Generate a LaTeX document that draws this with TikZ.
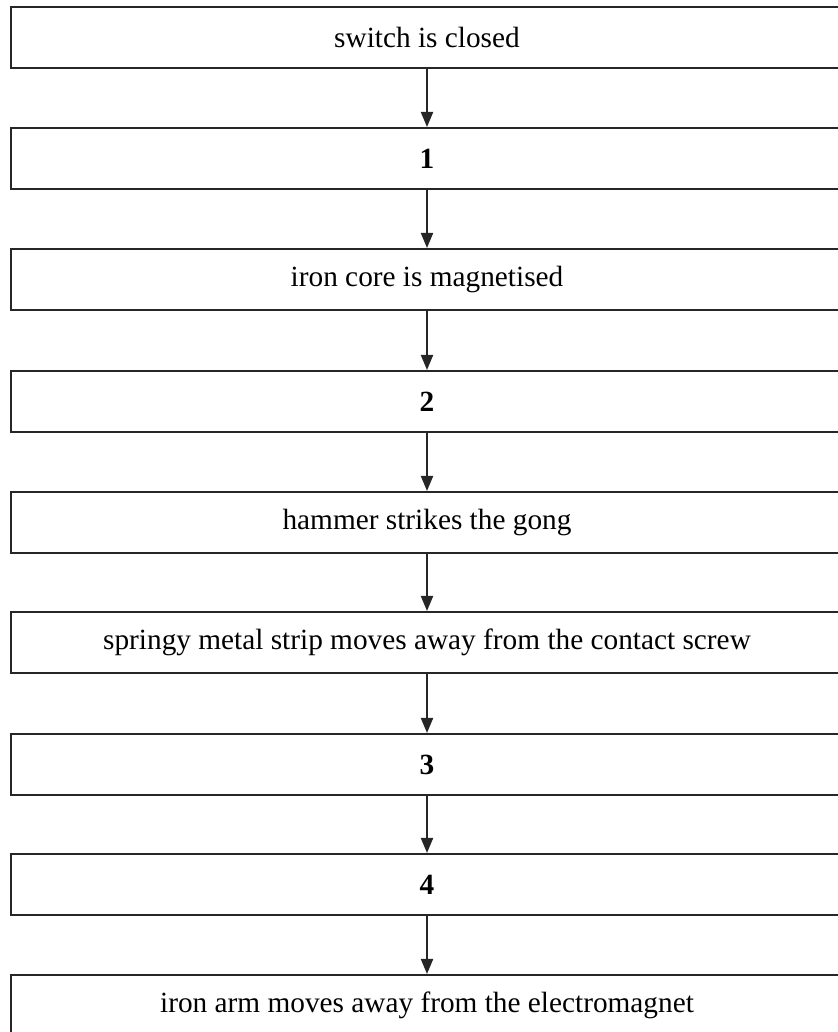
\documentclass[tikz,border=0pt]{standalone}
\usepackage{fontspec}
\setmainfont{Liberation Serif}
\usetikzlibrary{arrows.meta}
\begin{document}
\begin{tikzpicture}[x=1pt,y=1pt,
  stepbox/.style={draw=black!85, line width=2pt, minimum width=832pt, minimum height=61pt,
    inner sep=0pt, font=\fontsize{29.3}{34}\selectfont, anchor=north},
  flow/.style={draw=black!85, line width=2pt, -{Triangle[length=15pt,width=12pt]}}]
\useasboundingbox (0,0) rectangle (837,1032);
\node[stepbox] (b1) at (427,1026) {switch is closed};
\node[stepbox] (b2) at (427,905) {\textbf{1}};
\node[stepbox] (b3) at (427,784) {iron core is magnetised};
\node[stepbox] (b4) at (427,662) {\textbf{2}};
\node[stepbox] (b5) at (427,541) {hammer strikes the gong};
\node[stepbox] (b6) at (427,421) {springy metal strip moves away from the contact screw};
\node[stepbox] (b7) at (427,299) {\textbf{3}};
\node[stepbox] (b8) at (427,179) {\textbf{4}};
\node[stepbox] (b9) at (427,58) {iron arm moves away from the electromagnet};
\draw[flow] (b1.south) -- (b2.north);
\draw[flow] (b2.south) -- (b3.north);
\draw[flow] (b3.south) -- (b4.north);
\draw[flow] (b4.south) -- (b5.north);
\draw[flow] (b5.south) -- (b6.north);
\draw[flow] (b6.south) -- (b7.north);
\draw[flow] (b7.south) -- (b8.north);
\draw[flow] (b8.south) -- (b9.north);
\end{tikzpicture}
\end{document}
